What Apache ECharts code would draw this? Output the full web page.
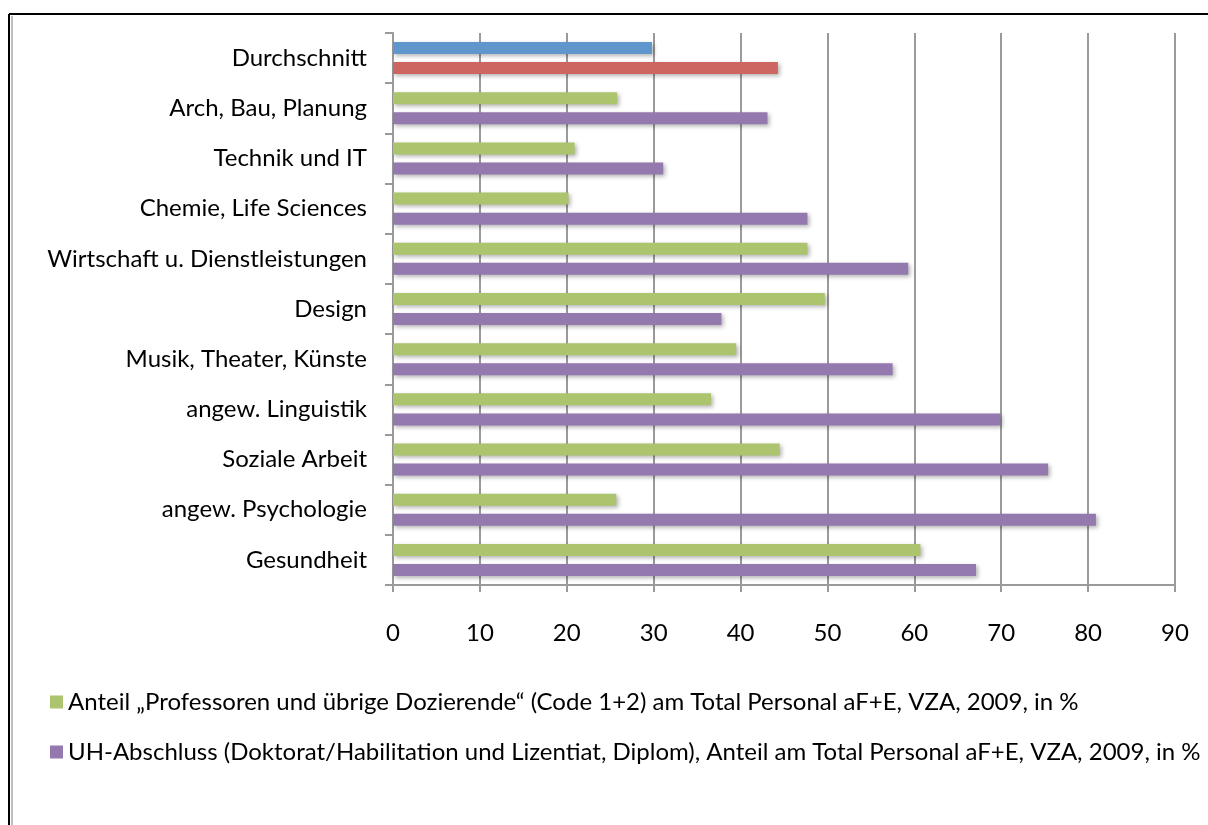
<!DOCTYPE html>
<html>
<head>
<meta charset="utf-8">
<script src="https://cdn.jsdelivr.net/npm/echarts@6/dist/echarts.min.js"></script>
<style>
  html, body { margin: 0; padding: 0; background: #fff; }
  #chart { width: 1208px; height: 825px; }
</style>
</head>
<body>
<div id="chart"></div>
<script>
// Kategorien von unten nach oben
var categories = ['Gesundheit', 'angew. Psychologie', 'Soziale Arbeit', 'angew. Linguistik',
  'Musik, Theater, Künste', 'Design', 'Wirtschaft u. Dienstleistungen',
  'Chemie, Life Sciences', 'Technik und IT', 'Arch, Bau, Planung', 'Durchschnitt'];

var seriesNames = [
  'Anteil \u201eProfessoren und übrige Dozierende\u201c (Code 1+2) am Total Personal aF+E, VZA, 2009, in %',
  'UH-Abschluss (Doktorat/Habilitation und Lizentiat, Diplom), Anteil am Total Personal aF+E, VZA, 2009, in %'
];

var dozierende = [60.7, 25.7, 44.5, 36.6, 39.5, 49.7, 47.7, 20.2, 20.9, 25.8, 29.8];
var uhAbschluss = [67.1, 80.9, 75.4, 69.9, 57.5, 37.8, 59.3, 47.7, 31.1, 43.1, 44.3];

var xTicks = { min: 0, max: 90, interval: 10 };

var colGreen = '#abc46d', colPurple = '#9379ae';
var colBlue = '#5f96cc', colRed = '#cd6560';

var shadow = { shadowColor: 'rgba(0,0,0,0.3)', shadowBlur: 4, shadowOffsetX: 2, shadowOffsetY: 2 };

function withAverage(values, avgColor) {
  return values.map(function (v, i) {
    if (categories[i] === 'Durchschnitt') {
      return { value: v, itemStyle: { color: avgColor } };
    }
    return v;
  });
}

var myChart = echarts.init(document.getElementById('chart'));
myChart.setOption({
  animation: false,
  textStyle: { fontFamily: 'Lato', color: '#000' },
  graphic: [
    { type: 'line', shape: { x1: 9, y1: 14, x2: 1208, y2: 14 }, style: { stroke: '#000', lineWidth: 2 } },
    { type: 'line', shape: { x1: 9, y1: 14, x2: 9, y2: 825 }, style: { stroke: '#000', lineWidth: 2 } },
    { type: 'line', shape: { x1: 12, y1: 16, x2: 12, y2: 825 }, style: { stroke: '#aaa', lineWidth: 1.5 } }
  ],
  grid: { left: 393, right: 33, top: 33, bottom: 240 },
  legend: {
    orient: 'vertical',
    left: 45,
    top: 685,
    itemGap: 26,
    itemWidth: 13,
    itemHeight: 13,
    icon: 'rect',
    textStyle: { fontSize: 24, color: '#000', fontFamily: 'Lato' },
    data: seriesNames
  },
  xAxis: {
    type: 'value',
    min: xTicks.min,
    max: xTicks.max,
    interval: xTicks.interval,
    axisLine: { show: true, lineStyle: { color: '#9a9a9a', width: 2 } },
    axisTick: { show: true, length: 7, lineStyle: { color: '#9a9a9a', width: 2 } },
    splitLine: { show: true, lineStyle: { color: '#9a9a9a', width: 2 } },
    axisLabel: { fontSize: 24, color: '#000', margin: 36 }
  },
  yAxis: {
    type: 'category',
    data: categories,
    axisLine: { show: true, lineStyle: { color: '#9a9a9a', width: 2 } },
    axisTick: { show: true, length: 8, lineStyle: { color: '#9a9a9a', width: 2 } },
    axisLabel: { fontSize: 24, color: '#000', margin: 26, padding: [5, 0, 0, 0] }
  },
  series: [
    {
      name: seriesNames[0],
      type: 'bar',
      barWidth: 12,
      barGap: '67%',
      itemStyle: Object.assign({ color: colGreen }, shadow),
      data: withAverage(dozierende, colBlue)
    },
    {
      name: seriesNames[1],
      type: 'bar',
      barWidth: 12,
      barGap: '67%',
      itemStyle: Object.assign({ color: colPurple }, shadow),
      data: withAverage(uhAbschluss, colRed)
    }
  ]
});
</script>
</body>
</html>
